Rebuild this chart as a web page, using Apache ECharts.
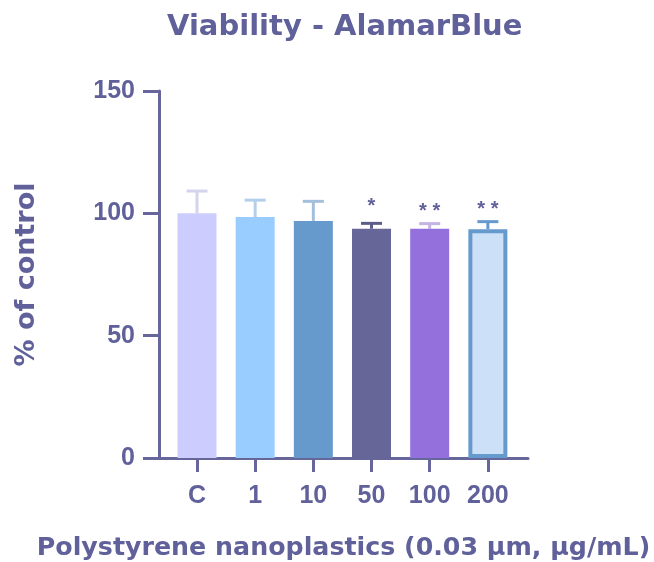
<!DOCTYPE html>
<html>
<head>
<meta charset="utf-8">
<script src="https://cdn.jsdelivr.net/npm/echarts@6/dist/echarts.min.js"></script>
<style>html,body{margin:0;padding:0;background:#fff;}#c{width:654px;height:562px;}</style>
</head>
<body>
<div id="c"></div>
<script>
const categories = ['C', '1', '10', '50', '100', '200'];
const means = [100, 98.5, 96.9, 93.7, 93.7, 93.5];
const errUpper = [109.1, 105.4, 104.9, 95.9, 95.8, 96.6];
const stars = ['', '', '', '*', '**', '**'];
const barColors = ['#ccccff', '#99ccff', '#6699cc', '#666699', '#9370db', '#cce0f8'];
const errColors = ['#d4d4ec', '#b4cfe9', '#a4bfdb', '#5c5c8c', '#c4b4e4', '#6699cc'];
const yTicks = [0, 50, 100, 150];

const TXT = '#60609a';
const AX = '#66669a';
const FONT = 'Liberation Sans, Arial, sans-serif';
const WIDE = 'DejaVu Sans, Verdana, sans-serif';
const idx = categories.map((_, i) => i);

const chart = echarts.init(document.getElementById('c'));
chart.setOption({
  animation: false,
  title: {
    text: 'Viability - AlamarBlue',
    left: 162, top: 8,
    textStyle: {color: TXT, fontSize: 29, fontWeight: 'bold', fontFamily: WIDE}
  },
  grid: {left: 159, right: 126, top: 91, bottom: 104, outerBoundsMode: 'none', containLabel: false},
  xAxis: {
    type: 'value', min: -0.653, max: 5.69,
    name: 'Polystyrene nanoplastics (0.03 µm, µg/mL)',
    nameLocation: 'middle', nameGap: 78,
    nameTextStyle: {color: TXT, fontSize: 25.3, fontWeight: 'bold', fontFamily: WIDE},
    axisLine: {show: true, onZero: false, lineStyle: {color: AX, width: 3}},
    axisTick: {show: true, customValues: idx, length: 14, lineStyle: {color: AX, width: 3}},
    axisLabel: {customValues: idx, formatter: v => categories[Math.round(v)], color: TXT,
      fontSize: 25, fontWeight: 'bold', fontFamily: FONT, margin: 26},
    splitLine: {show: false}
  },
  yAxis: {
    type: 'value', min: yTicks[0], max: yTicks[yTicks.length - 1], interval: 50,
    name: '% of control', nameLocation: 'middle', nameGap: 119, nameRotate: 90,
    nameTextStyle: {color: TXT, fontSize: 27, fontWeight: 'bold', fontFamily: WIDE},
    axisLine: {show: true, onZero: false, lineStyle: {color: AX, width: 3}},
    axisTick: {show: true, length: 16, lineStyle: {color: AX, width: 3}},
    axisLabel: {color: TXT, fontSize: 25, fontWeight: 'bold', fontFamily: FONT, margin: 24},
    splitLine: {show: false}
  },
  series: [
    {
      type: 'bar', barWidth: 39,
      data: means.map((m, i) => ({
        value: [i, m],
        itemStyle: i === 5 ? {color: barColors[i], borderColor: '#6699cc', borderWidth: 4}
                           : {color: barColors[i]}
      })),
      z: 2
    },
    {
      type: 'custom', z: 1,
      data: means.map((m, i) => [i, m, errUpper[i]]),
      renderItem: (params, api) => {
        const i = api.value(0);
        const base = api.coord([i, api.value(1)]);
        const top = api.coord([i, api.value(2)]);
        const c = errColors[i];
        const hw = 10.5;
        return {
          type: 'group',
          children: [
            {type: 'line', shape: {x1: base[0], y1: base[1], x2: top[0], y2: top[1]}, style: {stroke: c, lineWidth: 3}},
            {type: 'line', shape: {x1: top[0] - hw, y1: top[1], x2: top[0] + hw, y2: top[1]}, style: {stroke: c, lineWidth: 3}}
          ]
        };
      }
    },
    {
      type: 'custom', z: 3,
      data: errUpper.map((e, i) => [i, e]),
      renderItem: (params, api) => {
        const i = api.value(0);
        const p = api.coord([i, api.value(1)]);
        const s = stars[i];
        if (!s) return null;
        return {
          type: 'text',
          style: {x: p[0], y: p[1] - (s.length === 1 ? 7 : 2), text: s.split('').join(' '), fill: '#60609a',
            font: 'bold 20px ' + FONT, align: 'center', verticalAlign: 'bottom'}
        };
      }
    }
  ]
});
</script>
</body>
</html>
